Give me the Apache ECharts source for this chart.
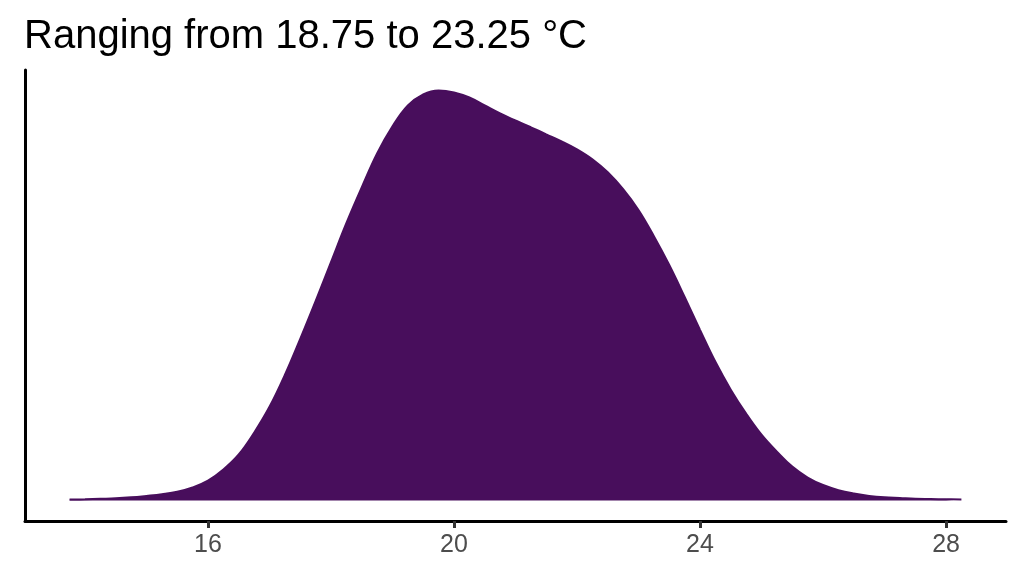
<!DOCTYPE html>
<html>
<head>
<meta charset="utf-8">
<script src="https://cdn.jsdelivr.net/npm/echarts@6/dist/echarts.min.js"></script>
<style>
  html, body { margin: 0; padding: 0; background: #ffffff; }
  #chart { width: 1024px; height: 576px; }
</style>
</head>
<body>
<div id="chart"></div>
<script>
// Temperature (°C) grid and estimated kernel density values
const temperature = [13.75, 14.0, 14.25, 14.5, 14.75, 15.0, 15.25, 15.5, 15.75, 16.0, 16.25, 16.5, 16.75, 17.0, 17.25, 17.5, 17.75, 18.0, 18.25, 18.5, 18.75, 19.0, 19.25, 19.5, 19.75, 20.0, 20.25, 20.5, 20.75, 21.0, 21.25, 21.5, 21.75, 22.0, 22.25, 22.5, 22.75, 23.0, 23.25, 23.5, 23.75, 24.0, 24.25, 24.5, 24.75, 25.0, 25.25, 25.5, 25.75, 26.0, 26.25, 26.5, 26.75, 27.0, 27.25, 27.5, 27.75, 28.0, 28.25];
const density = [0.0004, 0.0005, 0.0007, 0.0009, 0.0013, 0.0019, 0.0026, 0.0036, 0.0054, 0.0082, 0.0128, 0.0190, 0.0280, 0.0387, 0.0519, 0.0668, 0.0824, 0.0985, 0.1146, 0.1294, 0.1434, 0.1546, 0.1632, 0.1678, 0.1694, 0.1686, 0.1665, 0.1632, 0.1599, 0.1570, 0.1542, 0.1513, 0.1484, 0.1451, 0.1410, 0.1356, 0.1286, 0.1200, 0.1092, 0.0973, 0.0841, 0.0705, 0.0573, 0.0458, 0.0359, 0.0272, 0.0202, 0.0140, 0.0095, 0.0064, 0.0043, 0.0029, 0.0019, 0.0013, 0.0010, 0.0007, 0.0006, 0.0005, 0.0004];
const xTicks = [16, 20, 24, 28];
const titleText = 'Ranging from 18.75 to 23.25 °C';

const xMinData = Math.min(...temperature), xMaxData = Math.max(...temperature);
const xPad = (xMaxData - xMinData) * 0.05;
const yPeak = Math.max(...density);

const chart = echarts.init(document.getElementById('chart'), null, { renderer: 'canvas' });
chart.setOption({
  animation: false,
  backgroundColor: '#ffffff',
  title: {
    text: titleText,
    left: 19,
    top: 12,
    textStyle: { fontFamily: 'Liberation Sans, Arial, sans-serif', fontSize: 40, fontWeight: 'normal', color: '#000000' }
  },
  grid: { left: 25, right: 18, top: 70, bottom: 55, containLabel: false },
  xAxis: {
    type: 'value',
    min: xMinData - xPad,
    max: xMaxData + xPad,
    axisLine: { show: true, onZero: false, lineStyle: { color: '#000000', width: 3 } },
    axisTick: { show: true, customValues: xTicks, length: 7, lineStyle: { color: '#333333', width: 3 } },
    axisLabel: { show: true, customValues: xTicks, margin: 12, color: '#4D4D4D', fontSize: 25, fontFamily: 'Liberation Sans, Arial, sans-serif' },
    splitLine: { show: false }
  },
  yAxis: {
    type: 'value',
    min: -0.05 * yPeak,
    max: 1.05 * yPeak,
    axisLine: { show: true, onZero: false, lineStyle: { color: '#000000', width: 3 } },
    axisTick: { show: false },
    axisLabel: { show: false },
    splitLine: { show: false }
  },
  series: [{
    type: 'line',
    data: temperature.map((t, i) => [t, density[i]]),
    smooth: 0.4,
    showSymbol: false,
    lineStyle: { color: '#480e5c', width: 2 },
    areaStyle: { color: '#480e5c', opacity: 1, origin: 0 }
  }]
});
</script>
</body>
</html>
